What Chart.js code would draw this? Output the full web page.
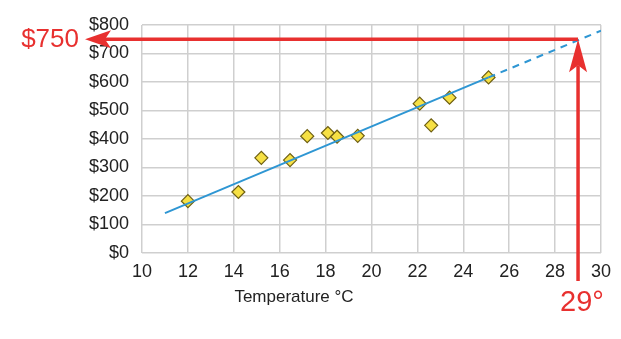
<!DOCTYPE html>
<html lang="en">
<head>
<meta charset="UTF-8">
<title>Sales vs Temperature</title>
<script src="https://cdn.jsdelivr.net/npm/chart.js@4.4.1/dist/chart.umd.min.js"></script>
<style>
  html, body { margin: 0; padding: 0; background: #fff; }
  #wrap { width: 621px; height: 339px; position: relative; }
</style>
</head>
<body>
<div id="wrap"><canvas id="chart" width="621" height="339"></canvas></div>
<script>
// observations
const temps = [12, 14.2, 15.2, 16.45, 17.2, 18.1, 18.5, 19.4, 22.1, 22.6, 23.4, 25.1];
const sales = [182, 214, 334, 326, 410, 421, 408, 411, 524, 448, 545, 616];

// trend line: solid over the data, dashed beyond it
const fitSolidX = [11, 25.1];
const fitSolidY = [140, 616];
const fitDashX = [25.1, 30];
const fitDashY = [616, 780];

// read-off marker
const markTemp = 29;
const markSales = 750;
const markTempLabel = '29°';
const markSalesLabel = '$750';

const xTitle = 'Temperature °C';
const RED = '#e8302f';
const FONT = '"Liberation Sans", Arial, sans-serif';

const pts = (xs, ys) => xs.map((x, i) => ({ x: x, y: ys[i] }));

// red arrows + axis title
const annotate = {
  id: 'annotate',
  afterDatasetsDraw(chart) {
    const ctx = chart.ctx;
    const xs = chart.scales.x, ys = chart.scales.y;
    const px = xs.getPixelForValue(markTemp);
    const py = ys.getPixelForValue(markSales);
    const tipX = 85;
    ctx.save();
    ctx.strokeStyle = RED;
    ctx.fillStyle = RED;
    ctx.lineWidth = 3.5;

    // horizontal line to the left arrow
    ctx.beginPath();
    ctx.moveTo(px, py);
    ctx.lineTo(tipX + 20, py);
    ctx.stroke();
    ctx.beginPath();
    ctx.moveTo(tipX, py);
    ctx.lineTo(tipX + 26, py - 9);
    ctx.lineTo(tipX + 20, py);
    ctx.lineTo(tipX + 26, py + 9);
    ctx.closePath();
    ctx.fill();

    // vertical line up from below the axis
    ctx.beginPath();
    ctx.moveTo(px, 281);
    ctx.lineTo(px, py + 26);
    ctx.stroke();
    ctx.beginPath();
    ctx.moveTo(px, py);
    ctx.lineTo(px - 9, py + 33);
    ctx.lineTo(px, py + 26);
    ctx.lineTo(px + 9, py + 33);
    ctx.closePath();
    ctx.fill();

    ctx.font = '26px ' + FONT;
    ctx.textBaseline = 'middle';
    ctx.textAlign = 'right';
    ctx.fillText(markSalesLabel, 79, py + 1);
    ctx.font = '29px ' + FONT;
    ctx.textAlign = 'left';
    ctx.textBaseline = 'alphabetic';
    ctx.fillText(markTempLabel, px - 18, 311);

    ctx.fillStyle = '#222';
    ctx.font = '17px ' + FONT;
    ctx.textAlign = 'center';
    ctx.fillText(xTitle, 294, 302);
    ctx.restore();
  }
};

new Chart(document.getElementById('chart'), {
  type: 'scatter',
  data: {
    datasets: [
      {
        label: 'fit',
        type: 'line',
        data: pts(fitSolidX, fitSolidY),
        borderColor: '#2e96d3',
        borderWidth: 2,
        pointRadius: 0,
        fill: false
      },
      {
        label: 'fit (projected)',
        type: 'line',
        data: pts(fitDashX, fitDashY),
        borderColor: '#2e96d3',
        borderWidth: 2,
        borderDash: [7, 6],
        pointRadius: 0,
        fill: false
      },
      {
        label: 'sales',
        data: pts(temps, sales),
        pointStyle: 'rectRot',
        pointRadius: 6.5,
        pointBackgroundColor: '#f6e044',
        pointBorderColor: '#6e5f12',
        pointBorderWidth: 1.2
      }
    ]
  },
  options: {
    responsive: false,
    animation: false,
    layout: { padding: { left: 0, right: 20, top: 25, bottom: 26 } },
    plugins: { legend: { display: false }, tooltip: { enabled: false } },
    scales: {
      x: {
        type: 'linear',
        min: 10,
        max: 30,
        ticks: {
          stepSize: 2,
          padding: 8,
          color: '#222',
          font: { family: FONT, size: 18 }
        },
        grid: { color: '#cfcfcf', lineWidth: 1.5, drawTicks: false },
        border: { display: false },
        afterFit(s) { s.height = 60; }
      },
      y: {
        min: 0,
        max: 800,
        ticks: {
          stepSize: 100,
          padding: 13,
          color: '#222',
          font: { family: FONT, size: 18 },
          callback: v => '$' + v
        },
        grid: { color: '#cfcfcf', lineWidth: 1.5, drawTicks: false },
        border: { display: false },
        afterFit(s) { s.width = 142; }
      }
    }
  },
  plugins: [annotate]
});
</script>
</body>
</html>
